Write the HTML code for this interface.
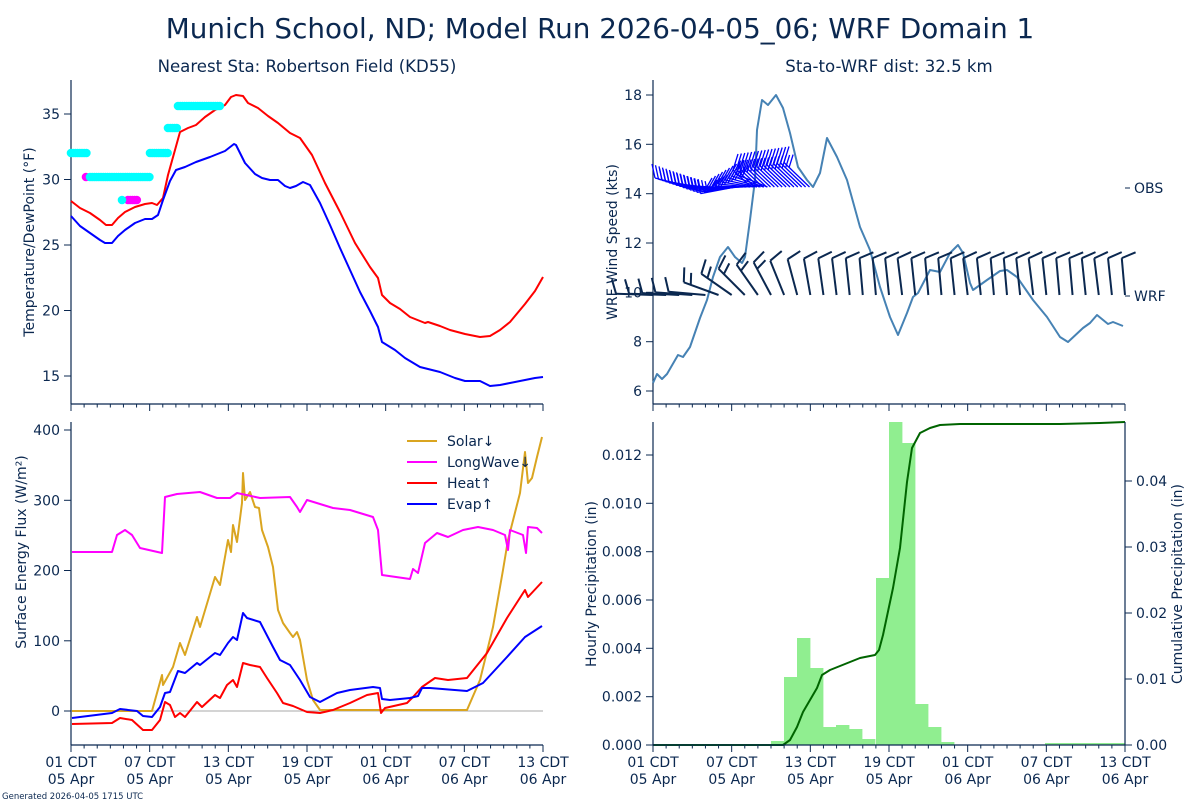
<!DOCTYPE html>
<html><head><meta charset="utf-8"><style>
body{margin:0;background:#fff;}
svg text{font-family:"DejaVu Sans","Liberation Sans",sans-serif;fill:#0b2850;}
</style></head><body>
<svg id="s" width="1200" height="800" xmlns="http://www.w3.org/2000/svg">
<rect width="1200" height="800" fill="#fff"/>
<text x="600" y="38" font-size="27.8" text-anchor="middle">Munich School, ND; Model Run 2026-04-05_06; WRF Domain 1</text>
<text x="307" y="72" font-size="16.6" text-anchor="middle">Nearest Sta: Robertson Field (KD55)</text>
<text x="889" y="72" font-size="16.6" text-anchor="middle">Sta-to-WRF dist: 32.5 km</text>
<text x="2" y="799" font-size="8.5">Generated 2026-04-05 1715 UTC</text>
<g id="g"></g>
</svg>
<script>
var g=document.getElementById('g'),h='';
function pl(pts,c,w){h+='<polyline fill="none" stroke="'+c+'" stroke-width="'+(w||2)+'" stroke-linejoin="round" points="'+pts+'"/>';}
function ln(a,b,c,d,col,w){h+='<line x1="'+a+'" y1="'+b+'" x2="'+c+'" y2="'+d+'" stroke="'+col+'" stroke-width="'+(w||1)+'"/>';}
function tx(x,y,t,anc,sz,rot){h+='<text x="'+x+'" y="'+y+'" font-size="'+(sz||14)+'" text-anchor="'+(anc||'middle')+'"'+(rot?' transform="rotate(-90 '+x+' '+y+')"':'')+'>'+t+'</text>';}
var AX='#0b2850';
function xaxis(x0,y,labels){
 ln(x0,y,x0+472,y,AX,1.2);
 for(var k=0;k<=36;k++){var x=x0+k*472/36;ln(x,y,x,y+(k%6?3.5:7),AX,1);}
 if(labels){var L=['01 CDT','07 CDT','13 CDT','19 CDT','01 CDT','07 CDT','13 CDT'],D=['05 Apr','05 Apr','05 Apr','05 Apr','06 Apr','06 Apr','06 Apr'];
 for(var i=0;i<7;i++){var x=x0+i*472/6;tx(x,y+22,L[i]);tx(x,y+39,D[i]);}}
}
function yaxis(x,y0,y1,ticks,side){
 ln(x,y0,x,y1,AX,1.2);
 ticks.forEach(function(t){var d=side=='r'?1:-1;ln(x,t[0],x+7*d,t[0],AX,1);tx(x+11*d,t[0]+5,t[1],side=='r'?'start':'end');});
}
// Top-left
yaxis(71,80,404,[[114,'35'],[179.5,'30'],[245,'25'],[310.5,'20'],[376,'15']]);
xaxis(71,404,false);
tx(34,242,'Temperature/DewPoint (°F)','middle',14,1);
pl('71,201 80,208 90,213 100,220 106,225 112,225 118,218 125,212 135,207 145,204 152,203 157,205 163,198 168,175 175,150 180,132 188,128 196,125 205,117 215,110 225,105 231,97 236,95 243,96 248,103 258,108 268,116 278,123 290,133 300,138 312,155 325,183 340,212 355,243 370,267 378,278 382,295 390,303 400,309 410,317 420,321 425,323 428,322 440,326 450,330 465,334 480,337 490,336 500,330 510,322 525,304 535,291 543,277','#ff0000');
pl('71,216 80,226 90,233 100,240 105,243 112,243 118,236 125,230 135,223 145,219 152,219 158,215 163,200 170,181 176,170 185,167 196,162 210,157 225,151 234,144 236,145 245,163 255,174 262,178 270,180 278,180 285,186 290,188 296,186 303,182 310,185 320,203 330,225 340,248 350,270 360,292 370,311 378,327 382,342 395,350 405,358 420,367 440,372 455,378 465,381 480,381 490,386 500,385 510,383 525,380 535,378 543,377','#0000ff');
function dots(a,b,y,c){for(var x=a;x<=b;x+=2.2)h+='<circle cx="'+x+'" cy="'+y+'" r="4.3" fill="'+c+'"/>';}
dots(86,86,177,'#ff00ff');dots(128,138,200,'#ff00ff');
dots(71,88,153,'#00ffff');dots(90,150,177,'#00ffff');dots(122,124,200,'#00ffff');dots(150,169,153,'#00ffff');dots(168,177,128,'#00ffff');dots(178,221,106,'#00ffff');
// Top-right
yaxis(653,80,404,[[95,'18'],[144.3,'16'],[193.7,'14'],[243,'12'],[292.3,'10'],[341.7,'8'],[391,'6']]);
ln(1125,188,1130,188,AX,1);ln(1125,296,1130,296,AX,1);
tx(1134,193,'OBS','start');tx(1134,301,'WRF','start');
xaxis(653,404,false);
tx(617,242,'WRF Wind Speed (kts)','middle',14,1);
pl('653,383 657,374 662,379 667,374 678,355 683,357 690,347 700,318 707,300 713,277 720,257 728,247 735,257 742,263 745,257 750,220 755,180 757,130 762,100 768,105 776,95 783,108 790,133 798,167 807,180 813,187 820,173 827,138 837,157 847,180 860,227 870,250 880,287 890,317 898,335 907,313 913,297 918,293 930,270 940,272 950,253 958,245 963,253 970,283 973,290 987,280 1000,271 1007,270 1017,277 1033,300 1047,317 1060,337 1068,342 1083,328 1090,323 1097,315 1108,324 1113,322 1123,326','#4682b4');
// WRF barbs
var ang=[178,178,177,176,175,160,145,135,125,118,112,105,100,98,97,96,95,95,96,97,96,95,95,96,97,96,95,95,96,97,96,95,95,96,97,96,95];
for(var k=0;k<=36;k++){var bx=653+k*472/36,by=295,a=ang[k]*Math.PI/180,L=37;
 var tx2=bx+L*Math.cos(a),ty2=by-L*Math.sin(a);ln(bx,by,tx2,ty2,'#0b2850',2);
 var fa=a-72*Math.PI/180;ln(tx2,ty2,tx2+15*Math.cos(fa),ty2-15*Math.sin(fa),'#0b2850',2);
 if(k>=5&&k<=9){ln(tx2-(tx2-bx)*0.2,ty2-(ty2-by)*0.2,tx2-(tx2-bx)*0.2+12*Math.cos(fa),ty2-(ty2-by)*0.2-12*Math.sin(fa),'#0b2850',2);}
}
// OBS barbs
for(var j=0;j<40;j++){var tipx,tipy,bx,by=187,fx,fy;
 if(j<14){tipx=655+j*3.5;tipy=178+j*1.2;bx=tipx+35;fx=tipx-3;fy=tipy-14;}
 else if(j<24){tipx=704+(j-14)*3.5;tipy=192-(j-14)*2;bx=tipx+32;fx=tipx+8;fy=tipy-14;}
 else{tipx=733+(j-24)*3.4;tipy=170-(j-24)*0.5;bx=tipx+18+(j-24)*0.5;fx=tipx+5;fy=tipy-16;}
 ln(bx,by,tipx,tipy,'#0000ff',1.3);ln(tipx,tipy,fx,fy,'#0000ff',1.3);
 var mx=tipx+(bx-tipx)*0.2,my=tipy+(by-tipy)*0.2;ln(mx,my,mx+(fx-tipx)*0.8,my+(fy-tipy)*0.8,'#0000ff',1.3);}
// Bottom-left
ln(71,711,543,711,'#aaaaaa',1);
yaxis(71,422,745,[[430,'400'],[500.3,'300'],[570.5,'200'],[640.8,'100'],[711,'0']]);
xaxis(71,745,true);
tx(26,552,'Surface Energy Flux (W/m²)','middle',14,1);
pl('72,711 152,711 162,675 163,685 173,667 180,643 185,655 197,617 200,627 215,577 220,585 228,540 231,552 233,525 237,542 242,503 243,473 245,500 250,492 255,507 259,508 262,530 268,547 273,567 278,610 283,623 290,633 293,637 297,632 300,640 307,680 313,700 320,710 467,710 480,680 493,627 503,570 508,540 520,493 525,452 528,483 532,478 537,457 542,437','#daa520');
pl('72,552 112,552 117,535 125,530 132,535 140,548 162,553 165,497 177,494 200,492 217,498 230,498 237,493 260,498 290,497 297,507 300,512 307,500 333,508 350,510 373,517 378,530 382,575 410,579 413,569 418,573 425,543 437,533 448,537 463,530 478,527 493,530 505,535 508,550 510,530 523,535 526,553 528,527 537,528 542,533','#ff00ff');
pl('72,724 112,723 120,718 132,720 143,730 152,730 160,720 165,702 170,705 175,717 180,713 185,717 197,702 202,707 215,695 220,698 227,685 233,680 237,687 243,663 250,665 260,667 267,678 277,693 283,703 293,706 307,712 320,713 333,710 350,703 367,695 378,693 381,713 385,708 407,703 413,697 422,687 435,678 448,680 467,678 487,653 507,618 525,590 528,597 542,582','#ff0000');
pl('72,718 112,713 120,709 137,711 143,716 152,717 160,707 165,693 170,692 178,671 185,673 197,663 200,665 215,653 220,655 228,643 233,637 237,640 243,613 247,618 260,622 273,647 280,660 290,665 300,680 310,697 320,702 337,693 350,690 373,687 380,688 382,699 390,700 410,698 418,696 422,688 430,688 467,691 483,683 507,657 525,637 542,626','#0000ff');
var LG=[['#daa520','Solar↓'],['#ff00ff','LongWave↓'],['#ff0000','Heat↑'],['#0000ff','Evap↑']];
LG.forEach(function(l,i){var y=441+i*21;ln(407,y,437,y,l[0],2);tx(447,y+5,l[1],'start');});
// Bottom-right bars
var bars=[[771,741],[784,677],[797,638],[810,668],[823,727],[836,725],[849,729],[862,739],[876,578],[889,422],[902,443],[915,704],[928,727],[941,742]];
bars.forEach(function(b){h+='<rect x="'+b[0]+'" y="'+b[1]+'" width="13.4" height="'+(745-b[1])+'" fill="#90ee90"/>';});
h+='<rect x="1045" y="743" width="80" height="2" fill="#90ee90"/>';
pl('653,745 783,745 790,740 797,727 803,712 810,700 817,688 822,675 830,670 840,666 850,662 860,658 870,656 875,655 879,650 883,635 893,588 900,548 907,482 912,448 920,433 930,428 940,425 960,424 1060,424 1100,423 1125,422','#006400');
yaxis(653,422,745,[[745,'0.000'],[696.7,'0.002'],[648.3,'0.004'],[600,'0.006'],[551.7,'0.008'],[503.3,'0.010'],[455,'0.012']]);
yaxis(1125,422,745,[[745,'0.00'],[679,'0.01'],[613,'0.02'],[547,'0.03'],[481,'0.04']],'r');
xaxis(653,745,true);
tx(596,584,'Hourly Precipitation (in)','middle',14,1);
tx(1182,584,'Cumulative Precipitation (in)','middle',14,1);
g.innerHTML=h;
</script>
</body></html>
